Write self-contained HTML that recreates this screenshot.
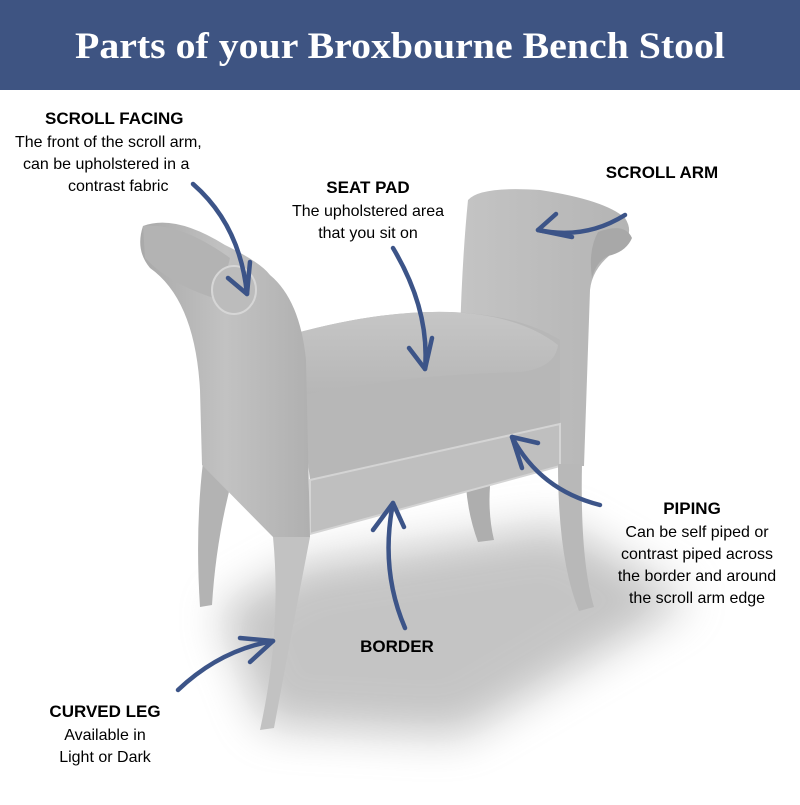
<!DOCTYPE html>
<html><head><meta charset="utf-8"><style>
body{margin:0;width:800px;height:800px;background:#fff;overflow:hidden;font-family:"Liberation Sans",sans-serif}
</style></head><body>
<svg width="800" height="800" viewBox="0 0 800 800" xmlns="http://www.w3.org/2000/svg">
<defs>
<filter id="bl" x="-50%" y="-50%" width="200%" height="200%"><feGaussianBlur stdDeviation="22"/></filter>
<linearGradient id="g1" x1="0" y1="0" x2="1" y2="0"><stop offset="0" stop-color="#a9a9a9"/><stop offset="0.5" stop-color="#c2c2c2"/><stop offset="1" stop-color="#b0b0b0"/></linearGradient>
<linearGradient id="g2" x1="0" y1="0" x2="1" y2="0"><stop offset="0" stop-color="#c4c4c4"/><stop offset="1" stop-color="#b4b4b4"/></linearGradient>
<linearGradient id="gs" x1="0" y1="0" x2="0" y2="1"><stop offset="0" stop-color="#c6c6c6"/><stop offset="1" stop-color="#b6b6b6"/></linearGradient>
</defs>
<rect x="0" y="0" width="800" height="90" fill="#3e5482"/>
<text x="400" y="58" text-anchor="middle" font-family="Liberation Serif,serif" font-weight="bold" font-size="37" fill="#fff" textLength="650" lengthAdjust="spacingAndGlyphs">Parts of your Broxbourne Bench Stool</text>

<path d="M220,610 L300,565 L560,525 L690,600 L460,735 L265,725 Z" fill="#8a8a8a" opacity="0.5" filter="url(#bl)"/>

<path d="M203,462 L232,480 Q216,540 212,605 L200,607 Q195,530 203,462 Z" fill="#b3b3b3"/>
<path d="M466,486 L490,486 Q488,515 494,540 L478,542 Q468,515 466,486 Z" fill="#aeaeae"/>
<path d="M468,200 Q480,186 540,190 Q605,200 625,218 Q638,238 610,255 Q592,270 590,290 L584,466 L556,466 L556,345 L460,337 Q462,260 468,200 Z" fill="url(#g2)"/>
<path d="M598,232 Q625,222 632,238 Q626,252 608,256 Q596,262 592,278 Q588,250 598,232 Z" fill="#a8a8a8"/>
<path d="M293,334 Q380,310 450,312 Q520,315 560,340 L560,426 L310,480 Z" fill="#b7b7b7"/>
<path d="M293,334 Q380,310 450,312 Q520,315 558,345 Q555,368 520,372 Q400,375 305,395 Z" fill="url(#gs)"/>
<path d="M310,480 L560,424 L560,466 L310,534 Z" fill="#bfbfbf" stroke="#d4d4d4" stroke-width="2"/>
<path d="M558,464 L582,464 Q580,560 594,607 L579,611 Q558,560 558,464 Z" fill="#b8b8b8"/>
<path d="M143,226 Q175,214 225,245 Q260,262 270,275 Q300,300 306,360 L310,537 L273,537 L202,465 L200,390 Q195,300 150,268 Q135,250 143,226 Z" fill="url(#g1)"/>
<path d="M143,226 Q180,222 230,258 L220,300 Q170,285 145,258 Z" fill="#b3b3b3"/>
<ellipse cx="234" cy="290" rx="22" ry="24" fill="#bcbcbc" stroke="#d6d6d6" stroke-width="2"/>
<path d="M273,537 L310,537 Q292,630 274,728 L260,730 Q282,630 273,537 Z" fill="#c2c2c2"/>

<g fill="none" stroke="#3c5488" stroke-width="4.5" stroke-linecap="round" stroke-linejoin="round">
<path d="M193,184 Q240,225 247,294"/><path d="M228,278 L247,294 L250,262"/>
<path d="M393,248 Q430,310 425,369"/><path d="M409,348 L425,369 L432,338"/>
<path d="M625,215 Q585,240 538,230"/><path d="M556,214 L538,230 L572,237"/>
<path d="M600,505 Q540,490 512,437"/><path d="M538,443 L512,437 L522,468"/>
<path d="M405,628 Q380,570 393,503"/><path d="M373,530 L393,503 L404,527"/>
<path d="M178,690 Q220,650 273,641"/><path d="M240,638 L273,641 L250,662"/>
</g>

<g fill="#000" font-size="16">
<text x="45" y="124" font-weight="bold" font-size="17">SCROLL FACING</text>
<text x="15" y="147">The front of the scroll arm,</text>
<text x="23" y="169">can be upholstered in a</text>
<text x="68" y="191">contrast fabric</text>
<text x="368" y="193" font-weight="bold" font-size="17" text-anchor="middle">SEAT PAD</text>
<text x="368" y="216" text-anchor="middle">The upholstered area</text>
<text x="368" y="238" text-anchor="middle">that you sit on</text>
<text x="662" y="178" font-weight="bold" font-size="17" text-anchor="middle">SCROLL ARM</text>
<text x="692" y="514" font-weight="bold" font-size="17" text-anchor="middle">PIPING</text>
<text x="697" y="537" text-anchor="middle">Can be self piped or</text>
<text x="697" y="559" text-anchor="middle">contrast piped across</text>
<text x="697" y="581" text-anchor="middle">the border and around</text>
<text x="697" y="603" text-anchor="middle">the scroll arm edge</text>
<text x="397" y="652" font-weight="bold" font-size="17" text-anchor="middle">BORDER</text>
<text x="105" y="717" font-weight="bold" font-size="17" text-anchor="middle">CURVED LEG</text>
<text x="105" y="740" text-anchor="middle">Available in</text>
<text x="105" y="762" text-anchor="middle">Light or Dark</text>
</g>
</svg>
</body></html>
